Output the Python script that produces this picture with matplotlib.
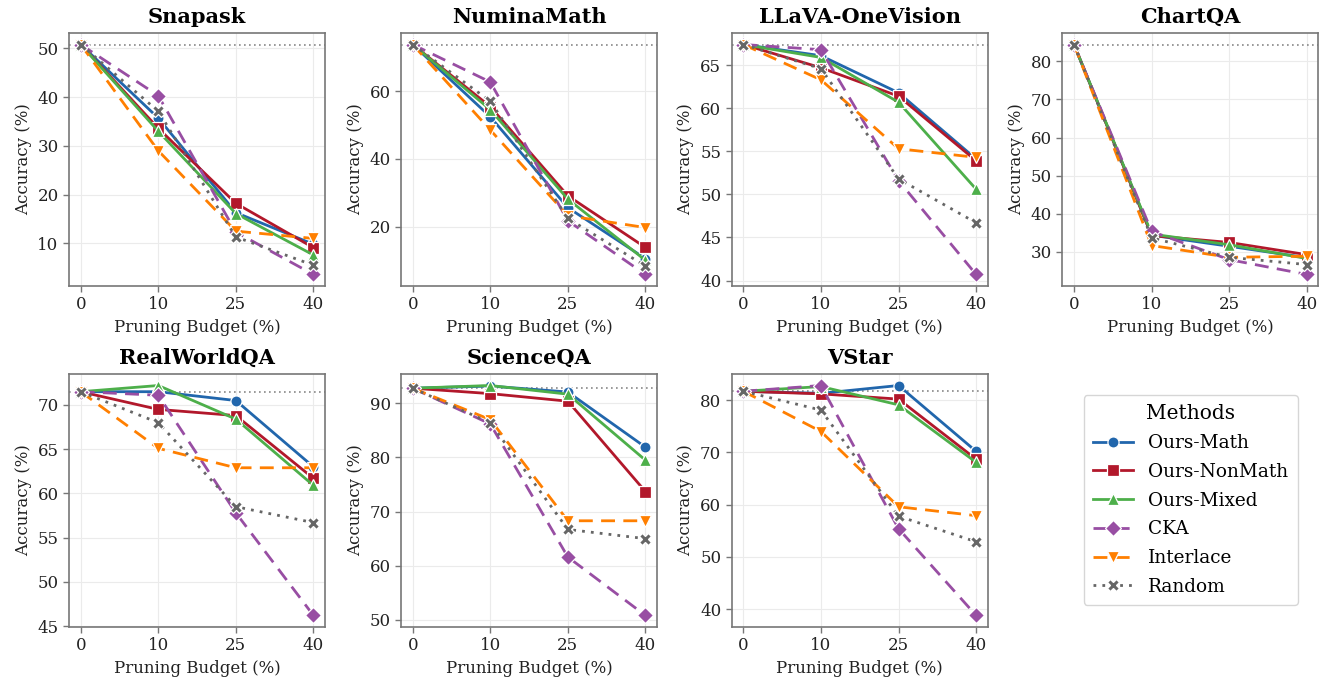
import matplotlib
matplotlib.use("Agg")
import matplotlib.pyplot as plt
import numpy as np

budgets = ["0", "10", "25", "40"]
methods = ["Ours-Math", "Ours-NonMath", "Ours-Mixed", "CKA", "Interlace", "Random"]
colors = ["#2166ac", "#b2182b", "#4daf4a", "#984ea3", "#ff7f00", "#666666"]
markers = ["o", "s", "^", "D", "v", "X"]
styles = ["-", "-", "-", (0, (5, 3)), (0, (5, 3)), (0, (1, 2.2))]

datasets = ["Snapask", "NuminaMath", "LLaVA-OneVision", "ChartQA",
            "RealWorldQA", "ScienceQA", "VStar"]

snapask = {
    "Ours-Math":    [50.8, 35.7, 16.3, 9.8],
    "Ours-NonMath": [50.8, 33.6, 18.2, 9.1],
    "Ours-Mixed":   [50.8, 33.0, 16.1, 7.6],
    "CKA":          [50.8, 40.3, 12.3, 3.6],
    "Interlace":    [50.8, 29.0, 12.5, 11.0],
    "Random":       [50.8, 37.1, 11.3, 5.5],
}
numinamath = {
    "Ours-Math":    [73.9, 52.5, 25.6, 10.5],
    "Ours-NonMath": [73.9, 55.5, 29.1, 13.8],
    "Ours-Mixed":   [73.9, 54.6, 28.1, 10.0],
    "CKA":          [73.9, 62.8, 21.7, 5.8],
    "Interlace":    [73.9, 48.6, 23.2, 19.7],
    "Random":       [73.9, 57.1, 22.4, 8.3],
}
llava = {
    "Ours-Math":    [67.4, 66.1, 61.8, 54.1],
    "Ours-NonMath": [67.4, 64.7, 61.4, 53.9],
    "Ours-Mixed":   [67.4, 65.9, 60.7, 50.6],
    "CKA":          [67.4, 66.8, 51.6, 40.7],
    "Interlace":    [67.4, 63.3, 55.3, 54.3],
    "Random":       [67.4, 64.6, 51.8, 46.7],
}
chartqa = {
    "Ours-Math":    [84.4, 34.4, 31.5, 28.5],
    "Ours-NonMath": [84.4, 34.3, 32.5, 29.3],
    "Ours-Mixed":   [84.4, 34.7, 31.9, 28.3],
    "CKA":          [84.4, 35.4, 28.0, 24.1],
    "Interlace":    [84.4, 31.7, 28.6, 28.9],
    "Random":       [84.4, 33.7, 28.6, 26.7],
}
realworldqa = {
    "Ours-Math":    [71.5, 71.5, 70.5, 63.0],
    "Ours-NonMath": [71.5, 69.5, 68.8, 61.7],
    "Ours-Mixed":   [71.5, 72.2, 68.4, 60.9],
    "CKA":          [71.5, 71.1, 57.8, 46.2],
    "Interlace":    [71.5, 65.1, 62.9, 62.9],
    "Random":       [71.5, 68.0, 58.5, 56.7],
}
scienceqa = {
    "Ours-Math":    [92.8, 93.2, 92.1, 81.9],
    "Ours-NonMath": [92.8, 91.8, 90.4, 73.7],
    "Ours-Mixed":   [92.8, 93.3, 91.7, 79.5],
    "CKA":          [92.8, 86.2, 61.6, 50.8],
    "Interlace":    [92.8, 87.0, 68.3, 68.3],
    "Random":       [92.8, 86.4, 66.7, 65.0],
}
vstar = {
    "Ours-Math":    [81.7, 81.3, 82.8, 70.2],
    "Ours-NonMath": [81.7, 81.2, 80.2, 68.7],
    "Ours-Mixed":   [81.7, 82.6, 79.1, 68.1],
    "CKA":          [81.7, 82.8, 55.4, 38.8],
    "Interlace":    [81.7, 74.0, 59.6, 57.9],
    "Random":       [81.7, 78.1, 57.8, 52.9],
}
all_data = [snapask, numinamath, llava, chartqa, realworldqa, scienceqa, vstar]

plt.rcParams.update({
    "font.family": ["DejaVu Serif"],
    "font.size": 12,
    "axes.edgecolor": "#777777",
    "axes.linewidth": 1.2,
    "xtick.major.size": 4,
    "ytick.major.size": 4,
    "xtick.major.width": 1.0,
    "ytick.major.width": 1.0,
    "xtick.color": "#777777",
    "ytick.color": "#777777",
    "xtick.labelcolor": "#222222",
    "ytick.labelcolor": "#222222",
})

fig = plt.figure(figsize=(13.28, 6.85), dpi=100)
lefts = [0.052, 0.302, 0.551, 0.800]
bottoms = [0.5825, 0.0847]
w, h = 0.1928, 0.3693

x = np.arange(len(budgets))
handles = []
for i, (name, data) in enumerate(zip(datasets, all_data)):
    r, c = divmod(i, 4)
    ax = fig.add_axes([lefts[c], bottoms[r], w, h])
    ax.grid(True, color="#ebebeb", linewidth=0.8)
    ax.set_axisbelow(True)
    base = data["Ours-Math"][0]
    ax.axhline(base, color="#888888", linestyle=(0, (1, 2)), linewidth=1.2, zorder=1)
    hs = []
    for m, col, mk, ls in zip(methods, colors, markers, styles):
        ms = 8 if mk in ("D", "X", "o", "s") else 8.5
        line, = ax.plot(x, data[m], color=col, marker=mk, linestyle=ls,
                        linewidth=2.0, markersize=ms, markeredgecolor="white",
                        markeredgewidth=0.9, label=m, zorder=3)
        hs.append(line)
    if i == 0:
        handles = hs
    ax.set_xticks(x)
    ax.set_xticklabels(budgets)
    ax.set_title(name, fontsize=15, fontweight="bold", pad=7)
    ax.set_xlabel("Pruning Budget (%)", fontsize=12, color="#222222")
    ax.set_ylabel("Accuracy (%)", fontsize=12, color="#222222")
    ax.tick_params(labelsize=12)

leg = fig.legend(handles, methods, title="Methods", loc="center",
                 bbox_to_anchor=(0.8965, 0.270), fontsize=13.3, title_fontsize=14.5,
                 frameon=True, edgecolor="#cccccc", handlelength=2.2,
                 borderpad=0.5, labelspacing=0.58)

fig.savefig("out.png", dpi=100)
